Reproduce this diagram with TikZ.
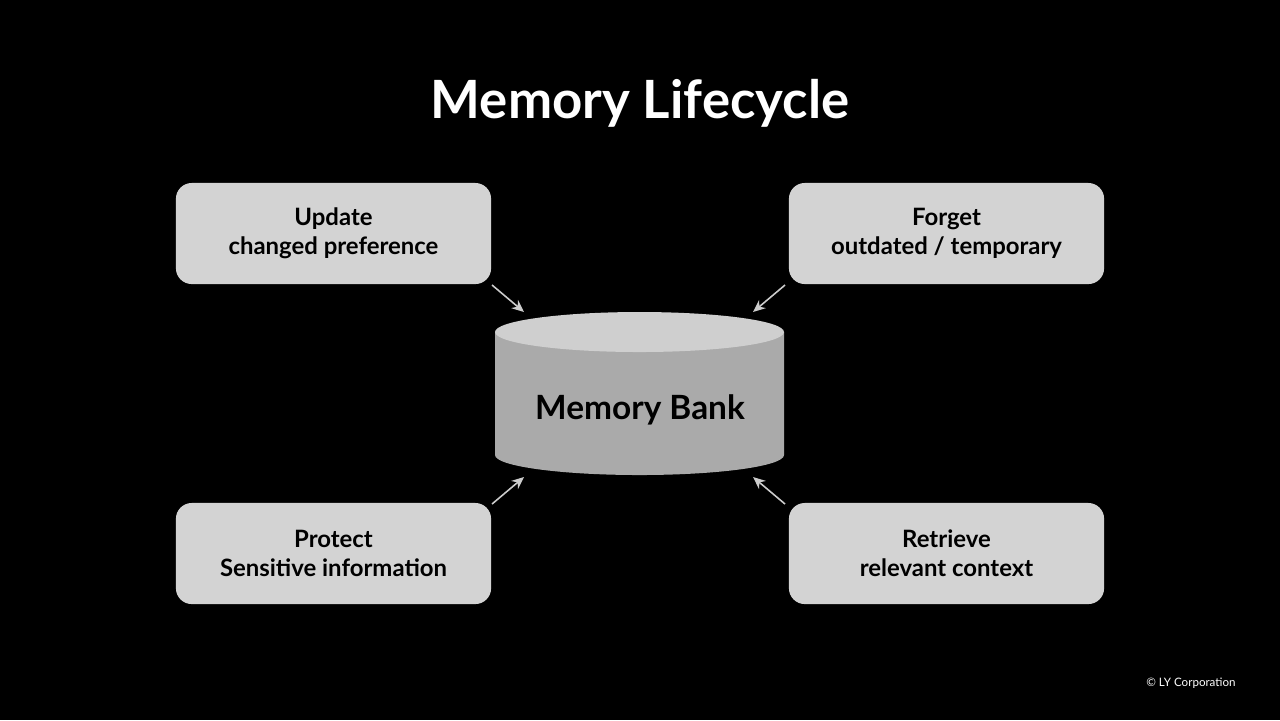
\documentclass[tikz,border=0pt]{standalone}
\usepackage{fontspec}
\setmainfont{Lato}
\usetikzlibrary{positioning,arrows.meta,calc}

\definecolor{boxgray}{HTML}{D3D3D3}
\definecolor{topgray}{HTML}{CFCFCF}
\definecolor{bodygray}{HTML}{AAAAAA}
\definecolor{arrowgray}{HTML}{CCCCCC}
\tikzset{
  stage/.style={draw=none, fill=boxgray, rounded corners=4.5pt, minimum width=3.15cm, minimum height=1.01cm,
    align=center, font=\fontsize{6.8pt}{8.3pt}\selectfont\bfseries, text=black},
  flow/.style={draw=arrowgray, line width=0.45pt, -{Stealth[length=3.5pt,width=3pt]}}
}

\begin{document}
\begin{tikzpicture}[x=0.01cm, y=-0.01cm]
  \fill[black] (0,0) rectangle (1280,720);
  \useasboundingbox (0,0) rectangle (1280,720);
  % title
  \node[text=white, font=\fontsize{15pt}{17pt}\selectfont\bfseries] (title) at (640,103) {Memory Lifecycle};
  % memory bank cylinder
  \fill[bodygray] (495,332) -- (495,455) arc[start angle=180, end angle=0, x radius=144.5, y radius=20] -- (784,332) -- cycle;
  \fill[topgray] (639.5,332) ellipse[x radius=144.5, y radius=20];
  \node[font=\fontsize{9.5pt}{11pt}\selectfont\bfseries] (bank) at (640,410) {Memory Bank};
  % the four stages
  \node[stage] (update) at (333.5,233.5) {Update\\changed preference};
  \node[stage] (forget) at (946.5,233.5) {Forget\\outdated / temporary};
  \node[stage] (protect) at (333.5,553.5) {Protect\\Sensitive information};
  \node[stage] (retrieve) at (946.5,553.5) {Retrieve\\relevant context};
  % arrow ends
  \coordinate (u0) at (492,285); \coordinate (u1) at (524,312);
  \coordinate (f0) at (785,285); \coordinate (f1) at (753,312);
  \coordinate (p0) at (492,504); \coordinate (p1) at (524,477);
  \coordinate (r0) at (785,504); \coordinate (r1) at (753,477);
  \draw[flow] (u0) -- (u1);
  \draw[flow] (f0) -- (f1);
  \draw[flow] (p0) -- (p1);
  \draw[flow] (r0) -- (r1);
  \node[text=white, font=\fontsize{3.3pt}{4pt}\selectfont, anchor=east] (copy) at (1248,683) {\textcopyright{} LY Corporation};
\end{tikzpicture}
\end{document}
